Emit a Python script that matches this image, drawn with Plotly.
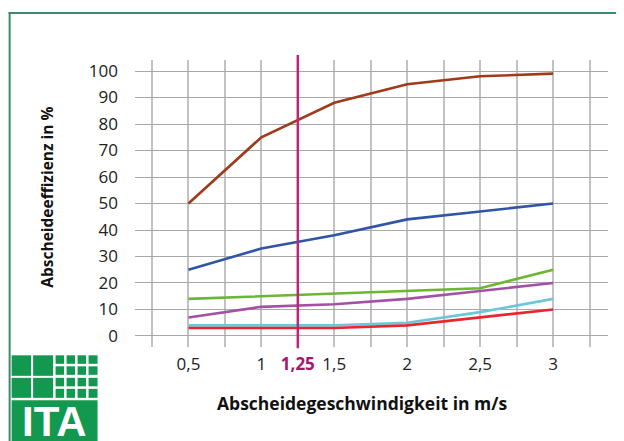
import plotly.graph_objects as go

# ---- data ----
speed = [0.5, 1, 1.5, 2, 2.5, 3]
brown = [50, 75, 88, 95, 98, 99]
blue = [25, 33, 38, 44, 47, 50]
green = [14, 15, 16, 17, 18, 25]
purple = [7, 11, 12, 14, 17, 20]
cyan = [4, 4, 4, 5, 9, 14]
red = [3, 3, 3, 4, 7, 10]
series = [
    (brown, "#9e3b1b"),
    (blue, "#2f55a4"),
    (green, "#6bb731"),
    (purple, "#a352a3"),
    (cyan, "#6ec6da"),
    (red, "#e8262b"),
]
x_grid_vals = [0.25, 0.5, 0.75, 1, 1.25, 1.5, 1.75, 2, 2.25, 2.5, 2.75, 3, 3.25]
x_grid_text = ["", "0,5", "", "1", '<span style="color:#a8166a"><b>1,25</b></span>',
               "1,5", "", "2", "", "2,5", "", "3", ""]
y_ticks = [0, 10, 20, 30, 40, 50, 60, 70, 80, 90, 100]
marker_x = 1.25
x_title = "Abscheidegeschwindigkeit in m/s"
y_title = "Abscheideeffizienz in %"

# the page body adds an 8px offset; work in window pixels and subtract it
O = 8
W, H = 624, 441 - O
L, R, T, B = 134.5, 608, 60, 346.7   # plot area in window pixels

def px(x):
    return (x - L) / (R - L)

def py(y):
    return (B - y) / (B - T)

fig = go.Figure()
for vals, col in series:
    fig.add_trace(go.Scatter(x=speed, y=vals, mode="lines",
                             line=dict(color=col, width=2.6), showlegend=False))

font = "Open Sans"
fig.update_layout(
    width=W, height=H,
    margin=dict(l=L - O, r=W + O - R, t=T - O, b=441 - B, pad=0),
    paper_bgcolor="white", plot_bgcolor="white",
    font=dict(family=font, color="#222"),
    xaxis=dict(range=[0.1336, 3.3767], tickvals=x_grid_vals, ticktext=x_grid_text,
               showgrid=True, gridcolor="#c2c2c2", gridwidth=1.5, zeroline=False,
               showline=False, ticks="", tickfont=dict(size=17, family=font),
               ticklabelstandoff=5),
    yaxis=dict(range=[-4.16, 104.16], tickvals=y_ticks,
               showgrid=True, gridcolor="#a8a8a8", gridwidth=1.3, zeroline=False,
               showline=False, ticks="", tickfont=dict(size=17, family=font),
               ticklabelstandoff=16),
)

fig.add_annotation(xref="paper", yref="paper", x=px(362), y=py(403),
                   text="<b>" + x_title + "</b>", showarrow=False,
                   font=dict(size=17.5, family=font, color="#111"),
                   xanchor="center", yanchor="middle")
fig.add_annotation(xref="paper", yref="paper", x=px(47), y=py(197),
                   text="<b>" + y_title + "</b>", showarrow=False, textangle=-90,
                   font=dict(size=15.5, family=font, color="#111"),
                   xanchor="center", yanchor="middle")

shapes = []
# vertical marker line
shapes.append(dict(type="line", xref="x", yref="paper", x0=marker_x, x1=marker_x,
                   y0=py(348), y1=py(55), line=dict(color="#c2237a", width=2.5)))
# frame
frame = "#3b8a68"
shapes.append(dict(type="line", xref="paper", yref="paper", x0=px(8), x1=px(640),
                   y0=py(13), y1=py(13), line=dict(color=frame, width=2)))
shapes.append(dict(type="line", xref="paper", yref="paper", x0=px(9), x1=px(9),
                   y0=py(12), y1=py(442), line=dict(color=frame, width=2)))
# logo
lg = "#13984f"
def rect(x0, y0, x1, y1):
    shapes.append(dict(type="rect", xref="paper", yref="paper", x0=px(x0), x1=px(x1),
                       y0=py(y1), y1=py(y0), fillcolor=lg, line=dict(width=0)))
rect(11, 355, 30.5, 375.5)
rect(32.5, 355, 52.5, 375.5)
rect(11, 377.5, 30.5, 397.5)
rect(32.5, 377.5, 52.5, 397.5)
cols = [(55, 63.5), (66, 74.5), (77, 85.5), (88, 97)]
rows = [(355, 363.5), (366, 374.5), (377.5, 386), (388.5, 397.5)]
for (a, b) in cols:
    for (c, d) in rows:
        rect(a, c, b, d)
rect(11, 400, 97, 442)
fig.update_layout(shapes=shapes)
fig.add_annotation(xref="paper", yref="paper", x=px(54), y=py(421), text="<b>ITA</b>",
                   showarrow=False,
                   font=dict(family="Liberation Sans", size=42, color="white"),
                   xanchor="center", yanchor="middle")

fig.write_html("out.html")
